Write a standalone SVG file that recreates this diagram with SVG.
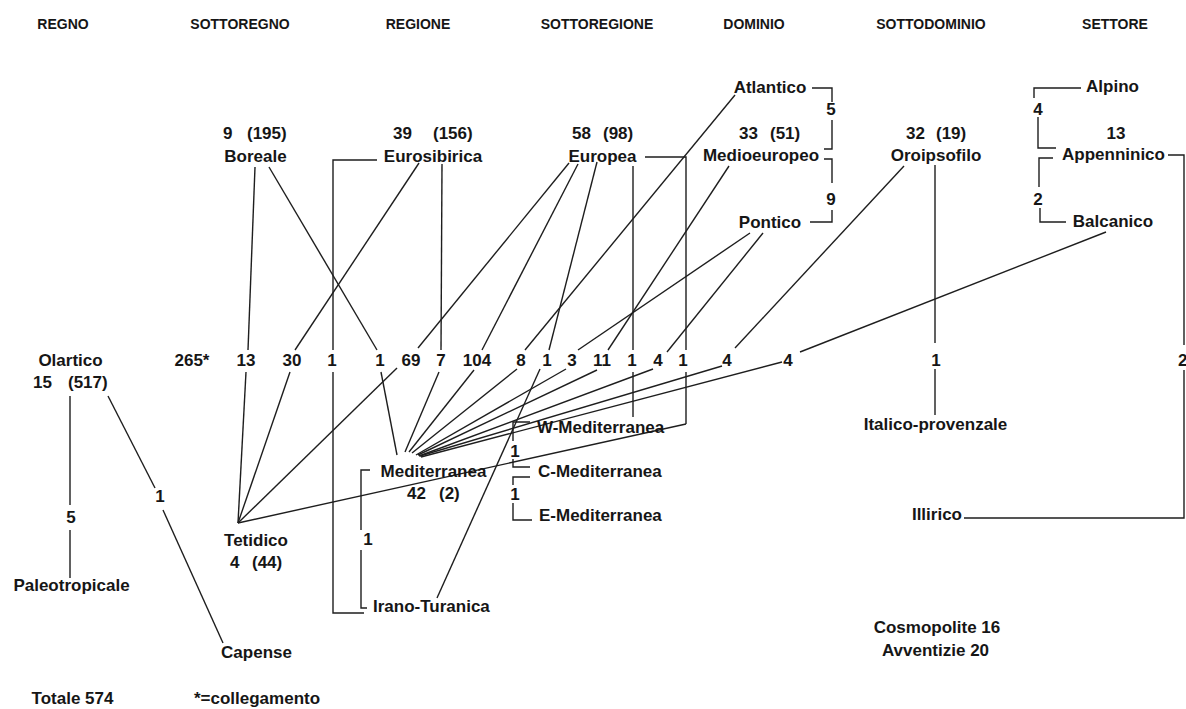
<svg xmlns="http://www.w3.org/2000/svg" width="1186" height="709" viewBox="0 0 1186 709">
<style>
text{font-family:"Liberation Sans",Arial,sans-serif;font-weight:bold;font-size:17px;fill:#161616}
.h{font-size:14px}
.m{text-anchor:middle}
.e{text-anchor:end}
#connectors line,#connectors path{stroke:#1e1e1e;stroke-width:1.4;fill:none}
</style>
<rect width="1186" height="709" fill="#fff"/>
<g id="headers">
<text class="h m" x="63" y="29">REGNO</text>
<text class="h m" x="240" y="29">SOTTOREGNO</text>
<text class="h m" x="418" y="29">REGIONE</text>
<text class="h m" x="597" y="29">SOTTOREGIONE</text>
<text class="h m" x="754" y="29">DOMINIO</text>
<text class="h m" x="931" y="29">SOTTODOMINIO</text>
<text class="h m" x="1115" y="29">SETTORE</text>
</g>
<g id="connectors">
<!-- Olartico -->
<line x1="70" y1="396" x2="70" y2="505"/>
<line x1="70" y1="530" x2="70" y2="578"/>
<line x1="108" y1="396" x2="155" y2="488"/>
<line x1="163" y1="510" x2="223" y2="643"/>
<!-- Boreale -->
<line x1="255" y1="167" x2="248" y2="350"/>
<line x1="246" y1="372" x2="238" y2="523"/>
<line x1="269" y1="167" x2="377" y2="350"/>
<line x1="381" y1="372" x2="397" y2="455"/>
<!-- Eurosibirica -->
<line x1="419" y1="163" x2="295" y2="350"/>
<line x1="290" y1="372" x2="238" y2="523"/>
<line x1="442" y1="164" x2="441" y2="350"/>
<line x1="439" y1="372" x2="405" y2="452"/>
<path d="M377,160 H333 V350 M333,372 V613 H364"/>
<!-- Europea -->
<line x1="569" y1="163" x2="418" y2="348"/>
<line x1="397" y1="368" x2="238" y2="523"/>
<line x1="578" y1="164" x2="482" y2="350"/>
<line x1="474" y1="370" x2="409" y2="452"/>
<line x1="597" y1="162" x2="549" y2="350"/>
<line x1="540" y1="369" x2="437" y2="598"/>
<line x1="633" y1="166" x2="633" y2="350"/>
<line x1="633" y1="372" x2="633" y2="417"/>
<path d="M645,157 H686 V350 M686,372 V424"/>
<line x1="686" y1="424" x2="238" y2="523"/>
<!-- Atlantico / Medioeuropeo / Pontico -->
<line x1="735" y1="95" x2="525" y2="350"/>
<line x1="517" y1="369" x2="412" y2="453"/>
<line x1="729" y1="166" x2="608" y2="350"/>
<line x1="597" y1="370" x2="418" y2="455"/>
<line x1="750" y1="233" x2="578" y2="350"/>
<line x1="566" y1="369" x2="416" y2="455"/>
<line x1="763" y1="233" x2="667" y2="352"/>
<line x1="653" y1="369" x2="419" y2="456"/>
<path d="M812,88 H832 V102 M832,120 V149 H824"/>
<path d="M824,159 H832 V183 M832,210 V222 H810"/>
<!-- Oroipsofilo -->
<line x1="904" y1="166" x2="735" y2="348"/>
<line x1="722" y1="366" x2="420" y2="456"/>
<line x1="935" y1="165" x2="935" y2="343"/>
<line x1="935" y1="369" x2="935" y2="415"/>
<!-- Settore -->
<line x1="1106" y1="232" x2="800" y2="352"/>
<line x1="782" y1="362" x2="421" y2="457"/>
<path d="M1081,88 H1034 V98 M1038,117 V148 H1056"/>
<path d="M1053,158 H1039 V187 M1040,208 V222 H1066"/>
<path d="M1168,155 H1184 V345 M1184,370 V518 H964"/>
<!-- Mediterranea brackets -->
<path d="M370,470 H361 V530 M361,550 V608 H367"/>
<path d="M530,422 H513 V441 M513,459 V467 H530"/>
<path d="M530,477 H513 V485 M513,503 V520 H532"/>
</g>
<g id="counts">
<text class="m" x="192" y="366">265*</text>
<text class="m" x="246" y="366">13</text>
<text class="m" x="292" y="366">30</text>
<text class="m" x="332" y="366">1</text>
<text class="m" x="380" y="366">1</text>
<text class="m" x="411" y="366">69</text>
<text class="m" x="441" y="366">7</text>
<text class="m" x="477" y="366">104</text>
<text class="m" x="521" y="366">8</text>
<text class="m" x="547" y="366">1</text>
<text class="m" x="572" y="366">3</text>
<text class="m" x="602" y="366">11</text>
<text class="m" x="632" y="366">1</text>
<text class="m" x="658" y="366">4</text>
<text class="m" x="683" y="366">1</text>
<text class="m" x="727" y="366">4</text>
<text class="m" x="788" y="366">4</text>
<text class="m" x="936" y="366">1</text>
<text x="1178" y="366">2</text>
<text class="m" x="160" y="502">1</text>
<text class="m" x="71" y="523">5</text>
<text class="m" x="831" y="115">5</text>
<text class="m" x="831" y="205">9</text>
<text class="m" x="1038" y="115">4</text>
<text class="m" x="1038" y="205">2</text>
<text class="m" x="368" y="545">1</text>
<text class="m" x="515" y="457">1</text>
<text class="m" x="515" y="500">1</text>
</g>
<g id="node-olartico"><text class="m" x="70.5" y="366">Olartico</text><text y="388"><tspan x="33">15</tspan><tspan x="68">(517)</tspan></text></g>
<g id="node-paleotropicale"><text class="m" x="71.5" y="591">Paleotropicale</text></g>
<g id="node-capense"><text class="m" x="256.5" y="658">Capense</text></g>
<g id="node-boreale"><text y="139"><tspan x="223">9</tspan><tspan x="247">(195)</tspan></text><text class="m" x="255.5" y="162">Boreale</text></g>
<g id="node-tetidico"><text class="m" x="256" y="546">Tetidico</text><text y="568"><tspan x="230">4</tspan><tspan x="252">(44)</tspan></text></g>
<g id="node-eurosibirica"><text y="139"><tspan x="393">39</tspan><tspan x="433">(156)</tspan></text><text class="m" x="433" y="162">Eurosibirica</text></g>
<g id="node-mediterranea"><text class="m" x="433.5" y="477">Mediterranea</text><text y="499"><tspan x="407">42</tspan><tspan x="439">(2)</tspan></text></g>
<g id="node-iranoturanica"><text x="373" y="612">Irano-Turanica</text></g>
<g id="node-europea"><text y="139"><tspan x="572">58</tspan><tspan x="603">(98)</tspan></text><text class="m" x="602.5" y="162">Europea</text></g>
<g id="node-wmed"><text x="537" y="433">W-Mediterranea</text></g>
<g id="node-cmed"><text x="538" y="477">C-Mediterranea</text></g>
<g id="node-emed"><text x="539" y="521">E-Mediterranea</text></g>
<g id="node-atlantico"><text class="m" x="770" y="93">Atlantico</text></g>
<g id="node-medioeuropeo"><text y="139"><tspan x="739">33</tspan><tspan x="770">(51)</tspan></text><text class="m" x="761" y="161">Medioeuropeo</text></g>
<g id="node-pontico"><text class="m" x="770" y="228">Pontico</text></g>
<g id="node-oroipsofilo"><text y="139"><tspan x="906">32</tspan><tspan x="936">(19)</tspan></text><text class="m" x="936" y="161">Oroipsofilo</text></g>
<g id="node-italico"><text class="m" x="935.5" y="430">Italico-provenzale</text></g>
<g id="node-alpino"><text class="m" x="1112.5" y="92">Alpino</text></g>
<g id="node-appenninico"><text class="m" x="1116" y="139">13</text><text class="m" x="1113.5" y="160">Appenninico</text></g>
<g id="node-balcanico"><text class="m" x="1113" y="227">Balcanico</text></g>
<g id="node-illirico"><text class="e" x="962" y="520">Illirico</text></g>
<g id="notes">
<text class="m" x="937" y="633">Cosmopolite 16</text>
<text class="m" x="935.5" y="656">Avventizie 20</text>
<text class="m" x="72.5" y="704">Totale 574</text>
<text class="m" x="257" y="704">*=collegamento</text>
</g>
</svg>
